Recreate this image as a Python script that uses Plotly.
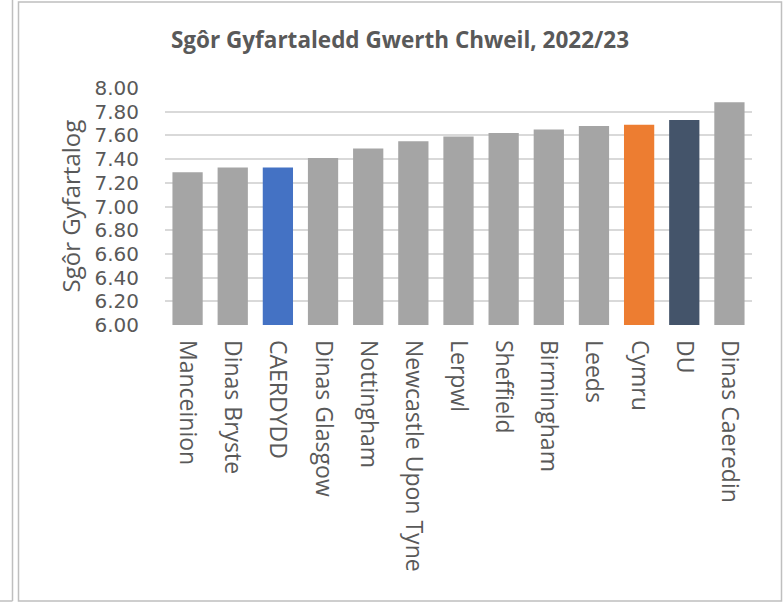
import plotly.graph_objects as go

categories = ["Manceinion", "Dinas Bryste", "CAERDYDD", "Dinas Glasgow", "Nottingham",
              "Newcastle Upon Tyne", "Lerpwl", "Sheffield", "Birmingham", "Leeds",
              "Cymru", "DU", "Dinas Caeredin"]
values = [7.29, 7.33, 7.33, 7.41, 7.49, 7.55, 7.59, 7.62, 7.65, 7.68, 7.69, 7.73, 7.88]
bar_colors = ["#A5A5A5", "#A5A5A5", "#4472C4", "#A5A5A5", "#A5A5A5", "#A5A5A5", "#A5A5A5",
              "#A5A5A5", "#A5A5A5", "#A5A5A5", "#ED7D31", "#44546A", "#A5A5A5"]
y_ticks = [6.0, 6.2, 6.4, 6.6, 6.8, 7.0, 7.2, 7.4, 7.6, 7.8, 8.0]
title_text = "Sgôr Gyfartaledd Gwerth Chweil, 2022/23"
y_title = "Sgôr Gyfartalog"

W, H = 784, 602
L, R, T, B = 165, 32, 88, 277
PW, PH = W - L - R, H - T - B

def px(x):
    return (x - L) / PW

def py(y):
    return (H - B - y) / PH

TXT = "#595959"
FONT = "Open Sans"

fig = go.Figure(go.Bar(
    x=categories, y=values, marker=dict(color=bar_colors, line=dict(width=0)),
    width=0.67,
))

fig.update_layout(
    width=W, height=H,
    margin=dict(l=L, r=R, t=T, b=B, autoexpand=False),
    paper_bgcolor="white", plot_bgcolor="white",
    showlegend=False,
    title=dict(text=title_text, x=400 / W, xref="container", xanchor="center",
               y=1 - 40 / H, yref="container", yanchor="middle",
               font=dict(family=FONT, size=22.5, color=TXT, weight="bold")),
    font=dict(family=FONT, color=TXT),
    xaxis=dict(tickangle=90, tickfont=dict(family=FONT, size=23, color=TXT),
               showgrid=False, showline=False, ticks="", ticklabelstandoff=14),
    yaxis=dict(range=[6, 8], tickvals=y_ticks, tickformat=".2f",
               tickfont=dict(family="DejaVu Sans", size=20, color=TXT),
               showgrid=True, gridcolor="#D9D9D9", gridwidth=1.5,
               zeroline=False, showline=False, ticks="", ticklabelstandoff=25),
    annotations=[dict(text=y_title, xref="paper", yref="paper", x=px(70), y=0.5,
                      xanchor="center", yanchor="middle", textangle=-90, showarrow=False,
                      font=dict(family=FONT, size=24, color=TXT))],
    shapes=[
        dict(type="rect", xref="paper", yref="paper", x0=px(18.5), x1=px(781.5),
             y0=py(601), y1=py(2), line=dict(color="#BFBFBF", width=1.5), layer="below"),
        dict(type="line", xref="paper", yref="paper", x0=px(12.5), x1=px(12.5),
             y0=py(601), y1=py(-2), line=dict(color="#BFBFBF", width=1.5)),
        dict(type="line", xref="paper", yref="paper", x0=px(-2), x1=px(12.5),
             y0=py(601), y1=py(601), line=dict(color="#BFBFBF", width=1.5)),
    ],
)

fig.write_html("out.html", config={"displayModeBar": False},
               post_script="document.body.style.margin='0';")
